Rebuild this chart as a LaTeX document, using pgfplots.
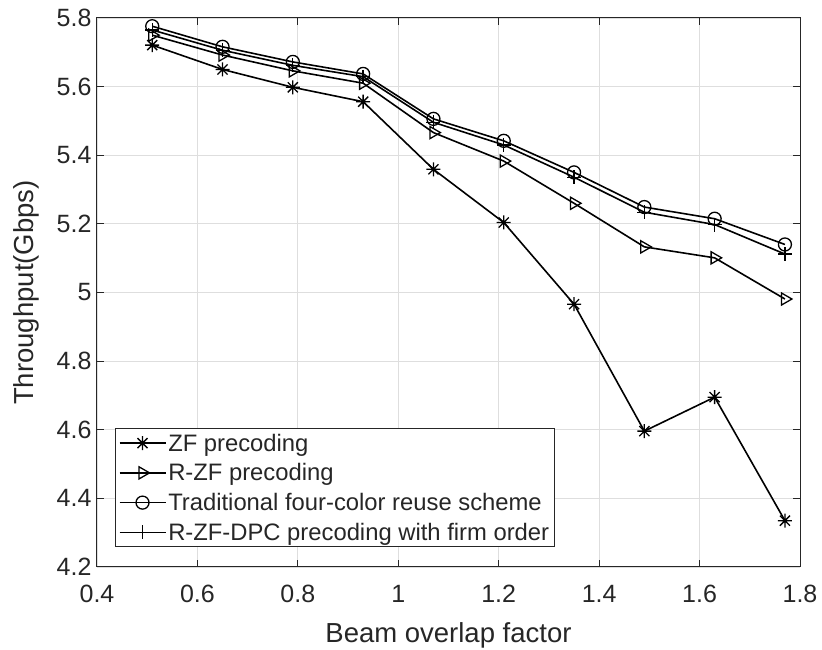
\documentclass[border=0pt]{standalone}
\usepackage{pgfplots}
\pgfplotsset{compat=1.18}
\usepackage{fontspec}
\setmainfont{Liberation Sans}
\definecolor{axc}{RGB}{38,38,38}
\definecolor{gridc}{RGB}{222,222,222}
\pgfdeclareplotmark{mstar}{%
  \pgfpathmoveto{\pgfqpoint{-\pgfplotmarksize}{0pt}}\pgfpathlineto{\pgfqpoint{\pgfplotmarksize}{0pt}}%
  \pgfpathmoveto{\pgfqpoint{0pt}{-\pgfplotmarksize}}\pgfpathlineto{\pgfqpoint{0pt}{\pgfplotmarksize}}%
  \pgfpathmoveto{\pgfqpoint{-0.72\pgfplotmarksize}{-0.72\pgfplotmarksize}}\pgfpathlineto{\pgfqpoint{0.72\pgfplotmarksize}{0.72\pgfplotmarksize}}%
  \pgfpathmoveto{\pgfqpoint{-0.72\pgfplotmarksize}{0.72\pgfplotmarksize}}\pgfpathlineto{\pgfqpoint{0.72\pgfplotmarksize}{-0.72\pgfplotmarksize}}%
  \pgfusepathqstroke}
\begin{document}
\begin{tikzpicture}
\path[use as bounding box] (-97pt,-83pt) rectangle (725pt,567pt);
\begin{axis}[
  scale only axis, width=703pt, height=549pt,
  xmin=0.4, xmax=1.8, ymin=4.2, ymax=5.8,
  xtick={0.4,0.6,...,1.8}, ytick={4.2,4.4,...,5.8},
  xticklabels={0.4,0.6,0.8,1,1.2,1.4,1.6,1.8},
  yticklabels={4.2,4.4,4.6,4.8,5,5.2,5.4,5.6,5.8},
  tick align=inside, xtick pos=both, ytick pos=both,
  major tick length=7pt,
  grid=major, grid style={gridc, line width=0.8pt},
  axis line style={axc, line width=1pt},
  tick style={axc, line width=1pt},
  ticklabel style={font=\fontsize{25}{28}\selectfont, text=axc},
  xticklabel shift=15pt, yticklabel shift=2pt,
  xlabel={Beam overlap factor}, ylabel={Throughput(Gbps)},
  label style={font=\fontsize{27.5}{30}\selectfont, text=axc},
  xlabel style={yshift=-12pt}, ylabel style={yshift=11pt},
  legend style={at={(axis description cs:0.026,0.036)}, anchor=south west,
    draw=axc, line width=1pt, font=\fontsize{23.8}{26}\selectfont, text=axc,
    inner sep=3pt, row sep=7pt, cells={anchor=west}},
  legend image post style={line width=1.5pt},
  legend image code/.code={\draw[#1] (0cm,0cm) -- (46pt,0cm) plot coordinates {(23pt,0cm)};},
  every axis plot/.append style={black, line width=1.6pt, mark size=7pt},
]
\addplot[mark=mstar, mark options={line width=1.3pt}] coordinates {
(0.51,5.721)(0.65,5.650)(0.79,5.598)(0.93,5.556)(1.07,5.359)(1.21,5.204)(1.35,4.966)(1.49,4.596)(1.63,4.695)(1.77,4.335)};
\addlegendentry{ZF precoding}
\addplot[mark=triangle, mark options={rotate=-90, line width=1.3pt}] coordinates {
(0.51,5.750)(0.65,5.692)(0.79,5.646)(0.93,5.610)(1.07,5.466)(1.21,5.383)(1.35,5.260)(1.49,5.133)(1.63,5.101)(1.77,4.981)};
\addlegendentry{R-ZF precoding}
\addplot[mark=o, mark size=6.5pt, mark options={line width=1.3pt}] coordinates {
(0.51,5.776)(0.65,5.716)(0.79,5.672)(0.93,5.637)(1.07,5.506)(1.21,5.442)(1.35,5.350)(1.49,5.249)(1.63,5.215)(1.77,5.140)};
\addlegendentry{Traditional four-color reuse scheme}
\addplot[mark=+, mark options={line width=1.3pt}] coordinates {
(0.51,5.765)(0.65,5.706)(0.79,5.662)(0.93,5.629)(1.07,5.496)(1.21,5.430)(1.35,5.336)(1.49,5.234)(1.63,5.198)(1.77,5.112)};
\addlegendentry{R-ZF-DPC precoding with firm order}
\end{axis}
\end{tikzpicture}
\end{document}
